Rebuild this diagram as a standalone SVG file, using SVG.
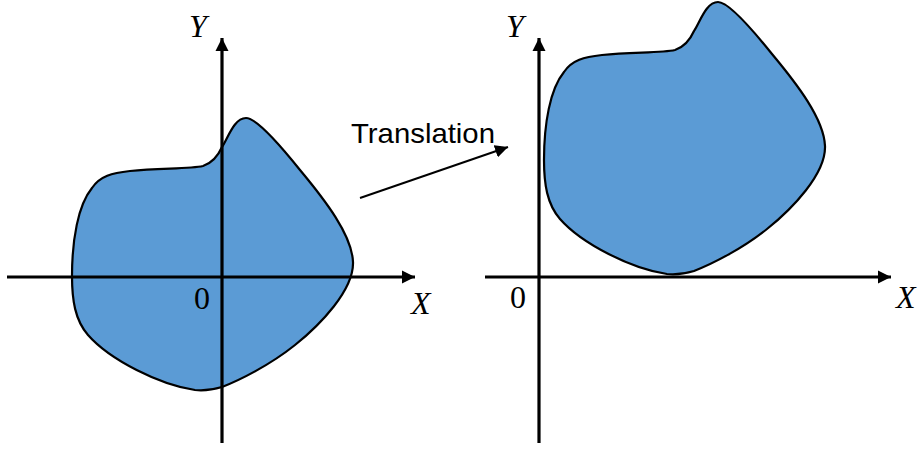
<svg xmlns="http://www.w3.org/2000/svg" xmlns:xlink="http://www.w3.org/1999/xlink" width="919" height="450" viewBox="0 0 919 450">
<style>
.shape{fill:#5B9BD5;stroke:#000;stroke-width:2.2;stroke-linejoin:round}
.axis{stroke:#000;stroke-width:3.2;fill:none}
.lbl{font-family:"Liberation Serif",serif;font-style:italic;font-size:32px;fill:#000}
.zero{font-family:"Liberation Serif",serif;font-size:32px;fill:#000}
.cap{font-family:"Liberation Sans",Arial,sans-serif;font-size:28px;fill:#000}
</style>
<defs>
<marker id="ah" viewBox="0 0 10 10" refX="10" refY="5" markerWidth="4.2" markerHeight="4.2" markerUnits="strokeWidth" orient="auto">
<path d="M0,0 L10,5 L0,10 Z" fill="#000"/>
</marker>
<marker id="ah2" viewBox="0 0 10 10" refX="10" refY="5" markerWidth="6.5" markerHeight="6.5" markerUnits="strokeWidth" orient="auto">
<path d="M0,0 L10,5 L0,10 Z" fill="#000"/>
</marker>
<path id="blob" class="shape" d="M222,147 C228,138 234,118 246,118 C256,118 280,145 300,170 C325,200 352,235 353,262 C354,290 320,325 295,345 C270,365 240,380 222,387 C212,390 205,391 195,390 C160,385 110,360 88,335 C75,320 72,300 72,276 C72,240 78,205 92,188 C100,176 112,173 130,171 C160,168 190,169 203,166 C212,163 218,156 222,147 Z"/>
</defs>
<g id="left">
<use xlink:href="#blob" href="#blob"/>
<line class="axis" x1="7" y1="277" x2="415" y2="277" marker-end="url(#ah)"/>
<line class="axis" x1="222" y1="443" x2="222" y2="38" marker-end="url(#ah)"/>
<text class="lbl" x="189" y="37">Y</text>
<text class="lbl" x="411" y="314">X</text>
<text class="zero" x="194" y="309">0</text>
</g>
<g id="right">
<use xlink:href="#blob" href="#blob" transform="translate(472,-116)"/>
<line class="axis" x1="485" y1="277" x2="891" y2="277" marker-end="url(#ah)"/>
<line class="axis" x1="539" y1="443" x2="539" y2="38" marker-end="url(#ah)"/>
<text class="lbl" x="506" y="37">Y</text>
<text class="lbl" x="896" y="308">X</text>
<text class="zero" x="510" y="308">0</text>
</g>
<g id="connectors">
<line x1="360" y1="198" x2="508" y2="147" stroke="#000" stroke-width="2" marker-end="url(#ah2)"/>
<text class="cap" x="351" y="143" textLength="144" lengthAdjust="spacingAndGlyphs">Translation</text>
</g>
</svg>
